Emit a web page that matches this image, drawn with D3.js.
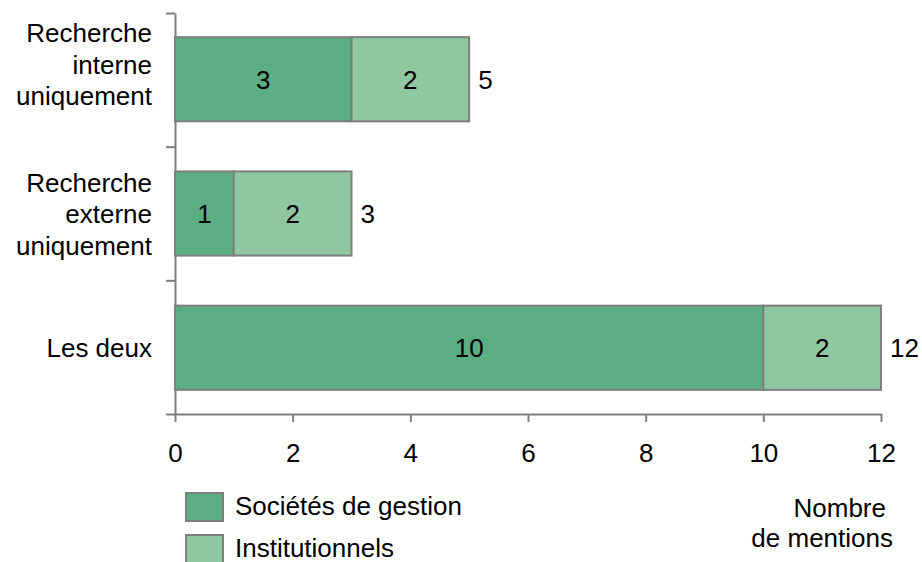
<!DOCTYPE html>
<html>
<head>
<meta charset="utf-8">
<script src="https://cdn.jsdelivr.net/npm/d3@7"></script>
<style>
  body { margin: 0; background: #fff; }
  svg { display: block; font-family: "Liberation Sans", Arial, sans-serif; }
</style>
</head>
<body>
<div id="chart"></div>
<script>
// data
const categories = [
    ["Recherche", "interne", "uniquement"],
    ["Recherche", "externe", "uniquement"],
    ["Les deux"]
]
const societes = [3, 1, 10]
const institutionnels = [2, 2, 2]
const xTicks = [0, 2, 4, 6, 8, 10, 12]
const seriesNames = ["Sociétés de gestion", "Institutionnels"]
const axisTitle = ["Nombre", "de mentions"]

const colors = ["#5aae82", "#8fc7a0"]
const stroke = "#7f7f7f"
const fontSize = 26

const W = 922, H = 562
const svg = d3.select("#chart")
    .append("svg")
    .attr("width", W)
    .attr("height", H)

const x = d3.scaleLinear().domain([0, 12]).range([175, 881])
const idx = categories.map((d, i) => i)
const y = d3.scaleBand()
    .domain(idx)
    .range([13, 414])
    .paddingInner(0.373)
    .paddingOuter(0.18)
const yTicks = d3.scaleLinear().domain([0, 3]).range([13, 414])

/* AXES */
const gx = svg.append("g")
    .attr("transform", "translate(0, 414)")
    .call(d3.axisBottom(x)
        .tickValues(xTicks)
        .tickSize(8)
        .tickSizeOuter(0)
        .tickPadding(22))
gx.select(".domain").attr("stroke", stroke).attr("stroke-width", 2)
gx.selectAll(".tick line").attr("stroke", stroke).attr("stroke-width", 2)
gx.selectAll(".tick text")
    .style("font-size", fontSize + "px")
    .style("font-family", "Liberation Sans, Arial, sans-serif")
    .attr("fill", "#000")

const gy = svg.append("g")
    .attr("transform", "translate(175, 0)")
    .call(d3.axisLeft(yTicks)
        .tickValues([0, 1, 2, 3])
        .tickFormat("")
        .tickSize(9)
        .tickSizeOuter(0))
gy.select(".domain").attr("stroke", stroke).attr("stroke-width", 2)
gy.selectAll(".tick line").attr("stroke", stroke).attr("stroke-width", 2)

/* CATEGORY LABELS */
const lineH = 31.5
svg.append("g")
    .selectAll("text")
    .data(categories)
    .join("text")
    .attr("text-anchor", "end")
    .attr("font-size", fontSize)
    .attr("fill", "#000")
    .each(function(lines, i) {
        const cy = y(i) + y.bandwidth() / 2 + 9.5 - (i === 0 ? 15 : 0)
        const first = cy - (lines.length - 1) / 2 * lineH
        d3.select(this).selectAll("tspan")
            .data(lines)
            .join("tspan")
            .attr("x", 152)
            .attr("y", (d, j) => first + j * lineH)
            .text(d => d)
    })

/* BARS */
const stack = idx.map(i => [
    { s: 0, x0: 0, x1: societes[i], v: societes[i], i },
    { s: 1, x0: societes[i], x1: societes[i] + institutionnels[i], v: institutionnels[i], i }
]).flat()

svg.append("g")
    .selectAll("rect")
    .data(stack)
    .join("rect")
    .attr("x", d => x(d.x0))
    .attr("y", d => y(d.i))
    .attr("width", d => x(d.x1) - x(d.x0))
    .attr("height", y.bandwidth())
    .attr("fill", d => colors[d.s])
    .attr("stroke", stroke)
    .attr("stroke-width", 2)

svg.append("g")
    .selectAll("text")
    .data(stack)
    .join("text")
    .attr("x", d => (x(d.x0) + x(d.x1)) / 2)
    .attr("y", d => y(d.i) + y.bandwidth() / 2)
    .attr("dy", "0.36em")
    .attr("text-anchor", "middle")
    .attr("font-size", fontSize)
    .attr("fill", "#000")
    .text(d => d.v)

// totals
svg.append("g")
    .selectAll("text")
    .data(idx)
    .join("text")
    .attr("x", i => x(societes[i] + institutionnels[i]) + 9)
    .attr("y", i => y(i) + y.bandwidth() / 2)
    .attr("dy", "0.36em")
    .attr("font-size", fontSize)
    .attr("fill", "#000")
    .text(i => societes[i] + institutionnels[i])

/* LEGEND */
const legend = svg.append("g")
    .selectAll("g")
    .data(seriesNames)
    .join("g")
    .attr("transform", (d, i) => `translate(186, ${493 + i * 42})`)
legend.append("rect")
    .attr("width", 37)
    .attr("height", 28)
    .attr("fill", (d, i) => colors[i])
    .attr("stroke", stroke)
    .attr("stroke-width", 2)
legend.append("text")
    .attr("x", 49)
    .attr("y", 22)
    .attr("font-size", fontSize)
    .attr("fill", "#000")
    .text(d => d)

/* AXIS TITLE */
svg.append("text")
    .attr("text-anchor", "end")
    .attr("font-size", fontSize)
    .attr("fill", "#000")
    .selectAll("tspan")
    .data(axisTitle)
    .join("tspan")
    .attr("x", (d, i) => i === 0 ? 886 : 893)
    .attr("y", (d, i) => 517 + i * 30)
    .text(d => d)
</script>
</body>
</html>
